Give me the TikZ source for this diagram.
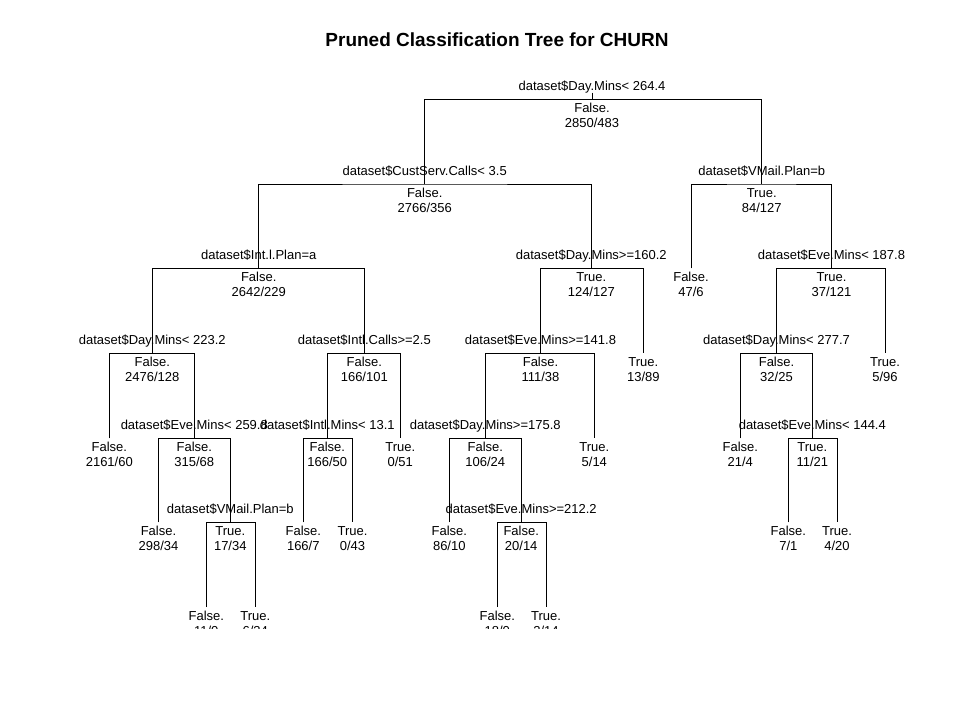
\documentclass[tikz,border=0pt]{standalone}
\usepackage{fontspec}
\setmainfont{Liberation Sans}
\tikzset{
  edge/.style={draw=black, line width=0.9pt},
  txt/.style={anchor=base, inner sep=0pt, font=\fontsize{13}{15}\selectfont},
  ttl/.style={inner sep=0pt, font=\fontsize{19}{22}\selectfont\bfseries}
}
\newcommand{\treesplit}[6]{%
  \coordinate (#1) at (#2,#3);
  \node[txt] (#1-lab) at (#2,{#3-8.6}) {#4};
  \node[txt] (#1-cls) at (#2,{#3+13.5}) {#5};
  \node[txt] (#1-cnt) at (#2,{#3+28}) {#6};}
\newcommand{\treeleaf}[5]{%
  \coordinate (#1) at (#2,#3);
  \node[txt] (#1-cls) at (#2,{#3+13.5}) {#4};
  \node[txt] (#1-cnt) at (#2,{#3+28}) {#5};}
\begin{document}
\begin{tikzpicture}[x=1pt,y=-1pt]
\useasboundingbox[fill=white] (0,0) rectangle (957,726);
\node[ttl] (title) at (497,40) {Pruned Classification Tree for CHURN};
\begin{scope}
\clip (0,0) rectangle (957,628.3);
\treesplit{r}{592}{99.3}{dataset\$Day.Mins< 264.4}{False.}{2850/483}
\treesplit{a}{424.7}{184}{dataset\$CustServ.Calls< 3.5}{False.}{2766/356}
\treesplit{b}{761.7}{184}{dataset\$VMail.Plan=b}{True.}{84/127}
\treesplit{aa}{258.7}{268.3}{dataset\$Int.l.Plan=a}{False.}{2642/229}
\treesplit{ab}{591.3}{268.3}{dataset\$Day.Mins>=160.2}{True.}{124/127}
\treeleaf{ba}{691}{268.3}{False.}{47/6}
\treesplit{bb}{831.5}{268.3}{dataset\$Eve.Mins< 187.8}{True.}{37/121}
\treesplit{aaa}{152.3}{353.3}{dataset\$Day.Mins< 223.2}{False.}{2476/128}
\treesplit{aab}{364.3}{353.3}{dataset\$Intl.Calls>=2.5}{False.}{166/101}
\treesplit{aba}{540.5}{353.3}{dataset\$Eve.Mins>=141.8}{False.}{111/38}
\treeleaf{abb}{643.3}{353.3}{True.}{13/89}
\treesplit{bba}{776.5}{353.3}{dataset\$Day.Mins< 277.7}{False.}{32/25}
\treeleaf{bbb}{885}{353.3}{True.}{5/96}
\treeleaf{aaaa}{109.3}{438.3}{False.}{2161/60}
\treesplit{aaab}{194.3}{438.3}{dataset\$Eve.Mins< 259.8}{False.}{315/68}
\treesplit{aaba}{327.3}{438.3}{dataset\$Intl.Mins< 13.1}{False.}{166/50}
\treeleaf{aabb}{400.3}{438.3}{True.}{0/51}
\treesplit{abaa}{485.3}{438.3}{dataset\$Day.Mins>=175.8}{False.}{106/24}
\treeleaf{abab}{594.3}{438.3}{True.}{5/14}
\treeleaf{bbaa}{740.3}{438.3}{False.}{21/4}
\treesplit{bbab}{812.3}{438.3}{dataset\$Eve.Mins< 144.4}{True.}{11/21}
\treeleaf{aaaba}{158.5}{522.3}{False.}{298/34}
\treesplit{aaabb}{230.3}{522.3}{dataset\$VMail.Plan=b}{True.}{17/34}
\treeleaf{aabaa}{303.3}{522.3}{False.}{166/7}
\treeleaf{aabab}{352.5}{522.3}{True.}{0/43}
\treeleaf{abaaa}{449.3}{522.3}{False.}{86/10}
\treesplit{abaab}{521.2}{522.3}{dataset\$Eve.Mins>=212.2}{False.}{20/14}
\treeleaf{bbaba}{788.3}{522.3}{False.}{7/1}
\treeleaf{bbabb}{837}{522.3}{True.}{4/20}
\treeleaf{aaabba}{206.3}{607}{False.}{11/0}
\treeleaf{aaabbb}{255.3}{607}{True.}{6/34}
\treeleaf{abaaba}{497.3}{607}{False.}{18/0}
\treeleaf{abaabb}{546}{607}{True.}{2/14}
\coordinate (rtop) at (592,92.5);
\draw[edge] (rtop) -- (r);
\draw[edge] (a) |- (r) -| (b);
\draw[edge] (aa) |- (a) -| (ab);
\draw[edge] (ba) |- (b) -| (bb);
\draw[edge] (aaa) |- (aa) -| (aab);
\draw[edge] (aba) |- (ab) -| (abb);
\draw[edge] (bba) |- (bb) -| (bbb);
\draw[edge] (aaaa) |- (aaa) -| (aaab);
\draw[edge] (aaba) |- (aab) -| (aabb);
\draw[edge] (abaa) |- (aba) -| (abab);
\draw[edge] (bbaa) |- (bba) -| (bbab);
\draw[edge] (aaaba) |- (aaab) -| (aaabb);
\draw[edge] (aabaa) |- (aaba) -| (aabab);
\draw[edge] (abaaa) |- (abaa) -| (abaab);
\draw[edge] (bbaba) |- (bbab) -| (bbabb);
\draw[edge] (aaabba) |- (aaabb) -| (aaabbb);
\draw[edge] (abaaba) |- (abaab) -| (abaabb);
\end{scope}
\end{tikzpicture}
\end{document}
